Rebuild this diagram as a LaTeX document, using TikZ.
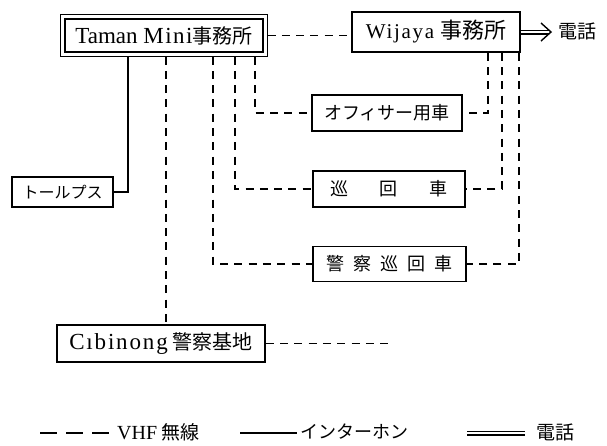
\documentclass[tikz,border=0pt]{standalone}
\usepackage{fontspec}
\setmainfont{Liberation Serif}
\newfontfamily\jp{Noto Sans CJK JP}
\newfontfamily\spacedlat[LetterSpace=8]{Liberation Serif}
\begin{document}
\begin{tikzpicture}[x=1pt,y=-1pt,
  box/.style={draw, line width=1.5pt, inner sep=0pt, minimum height=36pt},
  vhf/.style={line width=1.6pt, dash pattern=on 8pt off 6.3pt},
  ic/.style={line width=1.6pt},
  tel/.style={double, double distance=2.6pt, line width=1.2pt},
  lbl/.style={inner sep=0pt, anchor=west}]
\useasboundingbox (0,0) rectangle (607,445);

% nodes
\node[box, minimum width=198pt, minimum height=33pt, outer sep=4.5pt] (taman) at (164,35.5)
  {{\fontsize{23}{23}\selectfont Taman M\kern1.5pt i\kern1.5pt n\kern1.5pt i}{\jp\fontsize{20}{20}\selectfont 事務所}};
\draw[line width=1pt] (taman.south west) rectangle (taman.north east);

\node[box, minimum width=168pt, minimum height=40pt] (wij) at (436,32)
  {{\spacedlat\fontsize{21}{21}\selectfont Wijaya}\hspace{6pt}{\jp\fontsize{22}{22}\selectfont 事務所}};

\node[box, minimum width=150pt] (off) at (387,113)
  {\jp\fontsize{18}{18}\selectfont オフィサー用車};
\node[box, minimum width=152pt] (jun) at (389,189)
  {\jp\fontsize{18}{18}\selectfont 巡\hspace{32pt}回\hspace{32pt}車};
\node[box, minimum width=153pt, minimum height=35pt] (kei) at (389.5,264)
  {\jp\fontsize{18}{18}\selectfont 警\hspace{9pt}察\hspace{9pt}巡\hspace{9pt}回\hspace{9pt}車};
\node[box, minimum width=101pt, minimum height=30pt] (tol) at (62.5,192)
  {\jp\fontsize{16}{16}\selectfont トールプス};
\node[box, minimum width=208pt, minimum height=37pt] (cib) at (161,343.5)
  {{\spacedlat\fontsize{23}{23}\selectfont Cıbinong}\hspace{5pt}{\jp\fontsize{20}{20}\selectfont 警察基地}};

\node[lbl] (tel1) at (558,31) {\jp\fontsize{19}{19}\selectfont 電話};

% column coordinates
\coordinate (xa) at (166,0);
\coordinate (xb) at (213,0);
\coordinate (xc) at (235,0);
\coordinate (xd) at (255,0);
\coordinate (xe) at (488,0);
\coordinate (xf) at (502,0);
\coordinate (xg) at (519,0);
\coordinate (xt) at (128,0);
\coordinate (cibend) at (388,343.5);
\coordinate (tip) at (551,32);

% connectors
\draw[vhf] (taman.east) -- (taman.east -| wij.west);
\draw[vhf] (taman.south -| xd) |- (off.west);
\draw[vhf] (taman.south -| xc) |- (jun.west);
\draw[vhf] (taman.south -| xb) |- (kei.west);
\draw[vhf] (taman.south -| xa) -- (cib.north -| xa);
\draw[vhf] (wij.south -| xe) |- (off.east);
\draw[vhf] (wij.south -| xf) |- (jun.east);
\draw[vhf] (wij.south -| xg) |- (kei.east);
\draw[vhf] (cib.east) -- (cibend);
\draw[ic] (taman.south -| xt) |- (tol.east);
\draw[tel] (wij.east) -- ([xshift=-2pt]tip);
\draw[line width=1.4pt] ([shift={(-10,-9)}]tip) -- (tip) -- ([shift={(-10,9)}]tip);

% legend
\coordinate (l1a) at (40,433);
\coordinate (l1b) at (110,433);
\coordinate (l2a) at (240,433);
\coordinate (l2b) at (297,433);
\coordinate (l3a) at (467,433);
\coordinate (l3b) at (525,433);
\draw[line width=1.6pt, dash pattern=on 17pt off 9pt] (l1a) -- (l1b);
\node[lbl] (lg1) at (117,432) {{\fontsize{20}{20}\selectfont VHF}\hspace{4pt}{\jp\fontsize{19}{19}\selectfont 無線}};
\draw[ic] (l2a) -- (l2b);
\node[lbl] (lg2) at (300,432) {\jp\fontsize{18}{18}\selectfont インターホン};
\draw[tel] (l3a) -- (l3b);
\node[lbl] (lg3) at (536,432) {\jp\fontsize{19}{19}\selectfont 電話};
\end{tikzpicture}
\end{document}
